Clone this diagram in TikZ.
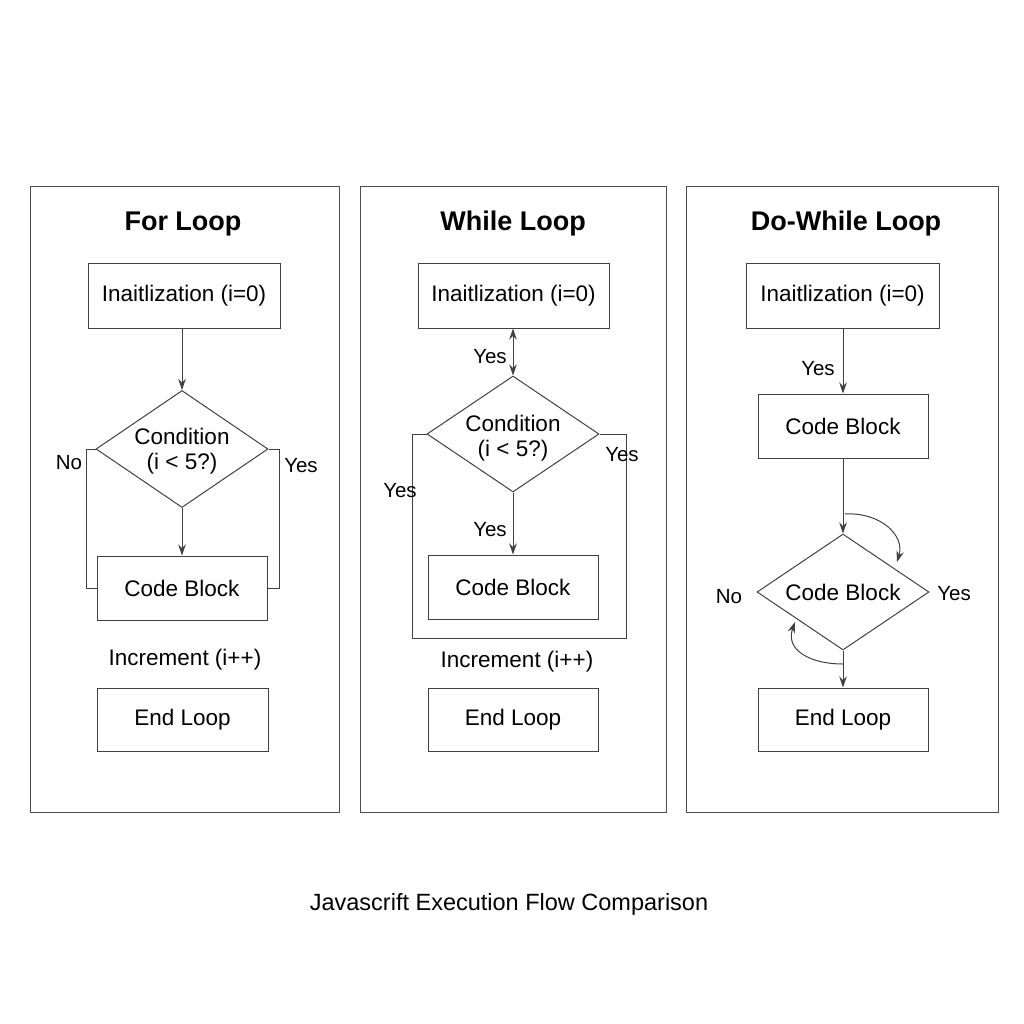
\documentclass[tikz,border=0pt]{standalone}
\usepackage{fontspec}
\setmainfont{Liberation Sans}
\usetikzlibrary{shapes.geometric,arrows.meta}
\begin{document}
\begin{tikzpicture}[x=1pt,y=-1pt,
 box/.style={draw=black!75,line width=1pt,inner sep=0pt,font=\fontsize{22.5}{25}\selectfont},
 dia/.style={draw=black!75,line width=1pt,diamond,inner sep=0pt,minimum width=172pt,minimum height=117pt},
 dtxt/.style={align=center,font=\fontsize{22.5}{25}\selectfont},
 panel/.style={draw=black!70,line width=1pt},
 ln/.style={draw=black!75,line width=1pt},
 ar/.style={ln,-{Stealth[length=11pt,width=7.5pt]}},
 lab/.style={font=\fontsize{20.5}{23}\selectfont},
 ttl/.style={font=\bfseries\fontsize{27}{30}\selectfont}]
\useasboundingbox (0,0) rectangle (1024,1024);
% panels
\draw[panel] (30,187) rectangle (339,812);
\draw[panel] (360,187) rectangle (666,812);
\draw[panel] (686,187) rectangle (998,812);
\node[ttl] (t1) at (183,224) {For Loop};
\node[ttl] (t2) at (513,224) {While Loop};
\node[ttl] (t3) at (846,224) {Do-While Loop};
% panel 1
\node[box,minimum width=192pt,minimum height=65pt] (i1) at (184,295.5) {Inaitlization (i=0)};
\node[dia] (d1) at (182,449) {};
\node[dtxt] (d1t) at (182,451) {Condition\\(i < 5?)};
\node[box,minimum width=170pt,minimum height=64pt] (c1) at (182,588) {Code Block};
\node[box,minimum width=171pt,minimum height=63pt] (e1) at (182.5,719.5) {End Loop};
\node[lab,font=\fontsize{22.5}{25}\selectfont] (inc1) at (185,660) {Increment (i++)};
\draw[ar] (i1.south -| d1.north) -- (d1.north);
\draw[ar] (d1.south) -- (c1.north);
\draw[ln] (d1.west) -- (86,449) |- (c1.west);
\draw[ln] (d1.east) -- (279,449) |- (c1.east);
\node[lab] (n1) at (69,463) {No};
\node[lab] (y1) at (301,466) {Yes};
% panel 2
\node[box,minimum width=191pt,minimum height=65pt] (i2) at (513.5,295.5) {Inaitlization (i=0)};
\node[dia,minimum height=116pt] (d2) at (513,434) {};
\node[dtxt] (d2t) at (513,438) {Condition\\(i < 5?)};
\node[box,minimum width=170pt,minimum height=64pt] (c2) at (513,587) {Code Block};
\node[box,minimum width=170pt,minimum height=63pt] (e2) at (513,719.5) {End Loop};
\node[lab,font=\fontsize{22.5}{25}\selectfont] (inc2) at (517,662) {Increment (i++)};
\draw[ln,{Stealth[length=11pt,width=7.5pt]}-{Stealth[length=11pt,width=7.5pt]}] (i2.south -| d2.north) -- (d2.north);
\draw[ar] (d2.south) -- (c2.north);
\draw[ln] (d2.west) -- (412,434) -- (412,638) -- (626,638) -- (626,434) -- (d2.east);
\node[lab] (y2a) at (490,357) {Yes};
\node[lab] (y2b) at (490,530) {Yes};
\node[lab] (y2c) at (400,491) {Yes};
\node[lab] (y2d) at (622,455) {Yes};
% panel 3
\node[box,minimum width=193pt,minimum height=65pt] (i3) at (842.5,295.5) {Inaitlization (i=0)};
\node[box,minimum width=170pt,minimum height=64pt] (c3) at (843,426) {Code Block};
\node[dia,minimum height=116pt] (d3) at (843,592) {};
\node[dtxt] (d3t) at (843,592) {Code Block};
\node[box,minimum width=170pt,minimum height=63pt] (e3) at (843,719.5) {End Loop};
\draw[ar] (i3.south -| c3.north) -- (c3.north);
\draw[ar] (c3.south) -- (d3.north);
\draw[ar] (d3.south) -- (e3.north);
\coordinate (a1) at (845,514);
\coordinate (a2) at (897,562);
\coordinate (b1) at (843,664);
\coordinate (b2) at (795,622);
\draw[ar] (a1) .. controls (880,512) and (905,535) .. (a2);
\draw[ar] (b1) .. controls (810,664) and (785,650) .. (b2);
\node[lab] (y3a) at (818,369) {Yes};
\node[lab] (n3) at (729,597) {No};
\node[lab] (y3b) at (954,594) {Yes};
\node[font=\fontsize{23.5}{26}\selectfont] (cap) at (509,904) {Javascrift Execution Flow Comparison};
\end{tikzpicture}
\end{document}
